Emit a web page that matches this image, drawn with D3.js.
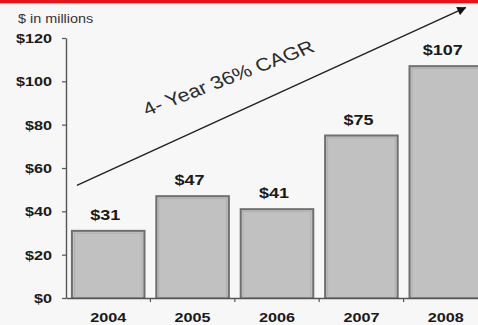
<!DOCTYPE html>
<html>
<head>
<meta charset="utf-8">
<script src="https://cdn.jsdelivr.net/npm/d3@7"></script>
<style>
  html, body { margin: 0; padding: 0; background: #f7f7f7; }
  svg { display: block; }
  text { font-family: "Liberation Sans", Arial, sans-serif; }
</style>
</head>
<body>
<script>
// ---- data ----
const years = ["2004", "2005", "2006", "2007", "2008"];
const revenue = [31, 47, 41, 75, 107];
const valueLabels = ["$31", "$47", "$41", "$75", "$107"];
const yTicks = [0, 20, 40, 60, 80, 100, 120];
const yTickLabels = ["$0", "$20", "$40", "$60", "$80", "$100", "$120"];
const unitLabel = "$ in millions";
const trendLabel = "4- Year 36% CAGR";

// ---- layout ----
const W = 478, H = 325;
const SX = 1.2; // horizontal stretch of the original artwork
const svg = d3.select("body").append("svg").attr("width", W).attr("height", H);

svg.append("rect").attr("width", W).attr("height", H).attr("fill", "#f7f7f7");
// red top rule
svg.append("rect").attr("x", 0).attr("y", 0).attr("width", W).attr("height", 4).attr("fill", "#f2b3b5");
svg.append("rect").attr("x", 0).attr("y", 0).attr("width", W).attr("height", 3).attr("fill", "#e2161d");

const x = d3.scaleBand().domain(years).range([66, 488]).paddingInner(0.14).paddingOuter(0.07);
const y = d3.scaleLinear().domain([0, 120]).range([298, 38]);

function stretch(sel) {
  sel.each(function () {
    const t = d3.select(this);
    const tx = +t.attr("x") || 0;
    const ty = +t.attr("y") || 0;
    t.attr("x", 0).attr("y", 0)
     .attr("transform", `translate(${tx},${ty}) scale(${SX},1)`);
  });
}

// bars
svg.append("g").selectAll("rect").data(revenue).join("rect")
  .attr("x", (d, i) => x(years[i]))
  .attr("y", d => y(d))
  .attr("width", x.bandwidth())
  .attr("height", d => y(0) - y(d))
  .attr("fill", "#c1c1c1")
  .attr("stroke", "#6f6f6f")
  .attr("stroke-width", 2);

// inner lighter edge
svg.append("g").selectAll("rect").data(revenue).join("rect")
  .attr("x", (d, i) => x(years[i]) + 2.5)
  .attr("y", d => y(d) + 2.5)
  .attr("width", x.bandwidth() - 5)
  .attr("height", d => y(0) - y(d) - 2.5)
  .attr("fill", "none")
  .attr("stroke", "#b0b0b0")
  .attr("stroke-width", 1);

// value labels
svg.append("g").selectAll("text").data(revenue).join("text")
  .attr("x", (d, i) => x(years[i]) + x.bandwidth() / 2 - 3)
  .attr("y", d => y(d) - 11)
  .attr("text-anchor", "middle")
  .attr("font-size", 15)
  .attr("font-weight", "bold")
  .attr("fill", "#1a1a1a")
  .text((d, i) => valueLabels[i])
  .call(stretch);

// y axis
const yAxis = d3.axisLeft(y).tickValues(yTicks)
  .tickFormat((d, i) => yTickLabels[i]).tickSize(4).tickSizeOuter(0).tickPadding(10);
const gy = svg.append("g").attr("transform", "translate(66,0)").call(yAxis);
gy.select(".domain").attr("stroke", "#555").attr("stroke-width", 1.4);
gy.selectAll(".tick line").attr("stroke", "#555").attr("stroke-width", 1.2);
gy.selectAll(".tick text")
  .attr("font-family", "Liberation Sans, Arial, sans-serif")
  .attr("font-size", 13.5).attr("font-weight", "bold").attr("fill", "#1a1a1a")
  .attr("dy", null).attr("y", 4.5)
  .call(stretch);

// x axis
const xAxis = d3.axisBottom(x).tickSize(0).tickSizeOuter(0).tickPadding(0);
const gx = svg.append("g").attr("transform", `translate(0,${y(0)})`).call(xAxis);
gx.select(".domain").attr("stroke", "#555").attr("stroke-width", 1.4);
gx.selectAll(".tick text")
  .attr("font-family", "Liberation Sans, Arial, sans-serif")
  .attr("font-size", 13.5).attr("font-weight", "bold").attr("fill", "#1a1a1a")
  .attr("dy", null).attr("y", 24)
  .call(stretch);
// boundary ticks between categories
gx.append("g").selectAll("line").data(years.slice(1)).join("line")
  .attr("x1", d => x(d) - x.step() * x.paddingInner() / 2)
  .attr("x2", d => x(d) - x.step() * x.paddingInner() / 2)
  .attr("y1", 0).attr("y2", 4)
  .attr("stroke", "#555").attr("stroke-width", 1.2);

// unit label
svg.append("text")
  .attr("x", 18).attr("y", 23)
  .attr("font-size", 12).attr("fill", "#333")
  .text(unitLabel)
  .call(stretch);

// trend arrow
const defs = svg.append("defs");
defs.append("marker")
  .attr("id", "ah").attr("viewBox", "0 0 10 10")
  .attr("refX", 9).attr("refY", 5)
  .attr("markerUnits", "userSpaceOnUse")
  .attr("markerWidth", 12).attr("markerHeight", 9)
  .attr("orient", "auto")
  .append("path").attr("d", "M0,0 L10,5 L0,10 z").attr("fill", "#111");

const ax1 = x(years[0]) + 5, ay1 = y(52);
const ax2 = x(years[4]) + 56, ay2 = y(134);
svg.append("line")
  .attr("x1", ax1).attr("y1", ay1).attr("x2", ax2).attr("y2", ay2)
  .attr("stroke", "#222").attr("stroke-width", 1.5)
  .attr("marker-end", "url(#ah)");

// trend label
svg.append("text")
  .attr("transform", `translate(147,116) scale(${SX},1) rotate(-24.8)`)
  .attr("font-size", 18).attr("fill", "#2a2a2a")
  .text(trendLabel);
</script>
</body>
</html>
